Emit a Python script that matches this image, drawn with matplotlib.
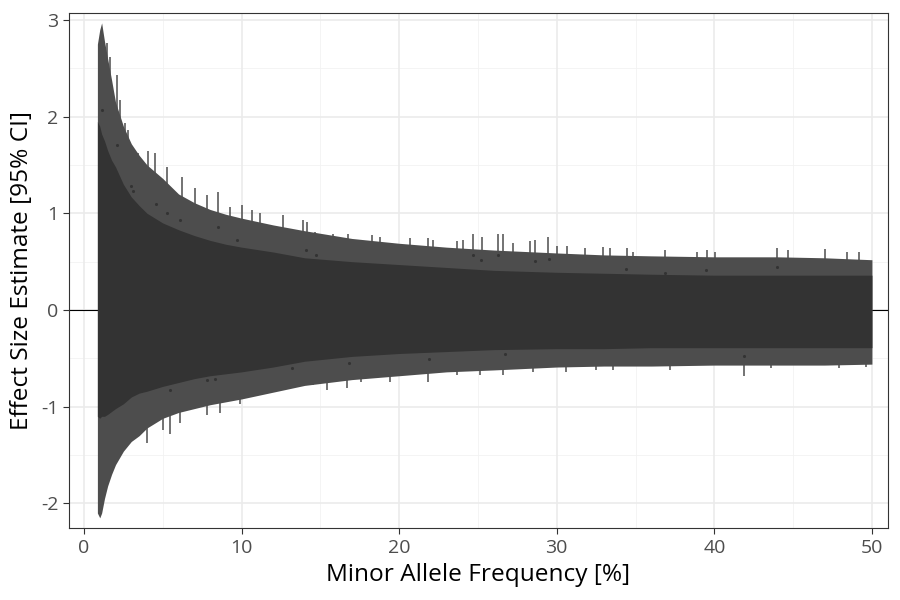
import numpy as np
import matplotlib
matplotlib.use("Agg")
import matplotlib.pyplot as plt

plt.rcParams['font.family'] = ['Open Sans', 'DejaVu Sans']

# envelope of the 95% CI bars and of the dense point cloud
maf = [0.85, 1.0, 1.12, 1.3, 1.5, 1.75, 2.0, 2.5, 3.0, 3.5, 4.0, 5.0, 6.0, 7.0,
       8.0, 9.0, 10, 12, 14, 17, 20, 23, 26, 30, 33, 36, 40, 44, 47, 50]
ci_hi = [2.75, 2.9, 2.97, 2.78, 2.6, 2.38, 2.15, 1.9, 1.72, 1.6, 1.5, 1.36, 1.2, 1.11,
         1.04, 0.99, 0.95, 0.88, 0.82, 0.74, 0.69, 0.65, 0.62, 0.59, 0.57, 0.56, 0.55, 0.55, 0.54, 0.52]
ci_lo = [-2.1, -2.15, -2.1, -1.95, -1.82, -1.70, -1.60, -1.46, -1.36, -1.30, -1.22, -1.12, -1.06, -1.02,
         -0.98, -0.95, -0.92, -0.85, -0.78, -0.72, -0.68, -0.64, -0.62, -0.59, -0.58, -0.58, -0.57, -0.57, -0.57, -0.56]
est_hi = [1.95, 1.9, 1.82, 1.75, 1.65, 1.55, 1.48, 1.3, 1.17, 1.08, 1.0, 0.9, 0.83, 0.77,
          0.72, 0.68, 0.65, 0.6, 0.54, 0.5, 0.47, 0.44, 0.41, 0.39, 0.38, 0.37, 0.36, 0.36, 0.36, 0.36]
est_lo = [-1.1, -1.12, -1.1, -1.1, -1.08, -1.05, -1.02, -0.97, -0.9, -0.86, -0.84, -0.79, -0.75, -0.71,
          -0.68, -0.66, -0.64, -0.59, -0.53, -0.48, -0.45, -0.43, -0.41, -0.40, -0.40, -0.39, -0.39, -0.39, -0.39, -0.39]

# single CI bars sticking out of the band
spike_up_maf = [1.44, 1.65, 2.07, 2.28, 2.6, 2.81, 3.45, 4.08, 4.5, 5.24, 6.2, 7.04, 7.78, 8.52,
                9.26, 10.0, 10.64, 11.17, 12.65, 13.92, 14.13, 14.66, 15.82, 16.77, 18.25, 18.78,
                20.69, 21.85, 22.17, 23.65, 24.07, 24.71, 25.24, 26.3, 26.6, 27.24, 28.3, 28.6,
                29.46, 29.99, 30.62, 31.79, 32.95, 33.38, 34.43, 34.86, 36.87, 38.88, 39.51,
                40.04, 43.95, 44.69, 47.0, 48.4, 49.2]
spike_up_top = [2.76, 2.62, 2.43, 2.17, 1.93, 1.86, 1.62, 1.64, 1.62, 1.48, 1.38, 1.26, 1.19, 1.22,
                1.07, 1.09, 1.03, 1.0, 0.98, 0.93, 0.91, 0.81, 0.79, 0.79, 0.78, 0.76,
                0.74, 0.74, 0.72, 0.71, 0.72, 0.79, 0.76, 0.79, 0.79, 0.69, 0.71, 0.72,
                0.75, 0.66, 0.66, 0.64, 0.65, 0.64, 0.64, 0.60, 0.62, 0.60, 0.62,
                0.60, 0.64, 0.62, 0.63, 0.60, 0.60]
spike_lo_maf = [3.98, 5.03, 5.46, 6.09, 7.78, 8.63, 9.9, 14.55, 15.4, 16.66, 17.6, 19.4, 21.85,
                23.65, 25.1, 26.6, 28.5, 30.6, 32.5, 33.6, 37.2, 41.9, 43.6, 47.9, 49.6]
spike_lo_bot = [-1.38, -1.24, -1.28, -1.17, -1.09, -1.07, -0.97, -0.78, -0.83, -0.81, -0.74, -0.74, -0.74,
                -0.67, -0.67, -0.67, -0.64, -0.64, -0.62, -0.62, -0.62, -0.68, -0.60, -0.60, -0.59]

# loose point estimates outside the dense cloud
dot_maf = [1.12, 2.07, 3.0, 3.1, 4.6, 5.25, 6.1, 8.5, 9.7, 14.1, 14.7, 24.7, 25.2, 26.3, 28.6,
           29.5, 34.4, 36.9, 39.5, 43.95, 7.8, 8.3, 5.46, 13.2, 16.8, 21.9, 26.7, 41.9]
dot_est = [2.07, 1.71, 1.28, 1.23, 1.1, 1.0, 0.93, 0.86, 0.72, 0.62, 0.57, 0.57, 0.52, 0.57, 0.51,
           0.53, 0.42, 0.38, 0.41, 0.44, -0.72, -0.71, -0.83, -0.6, -0.55, -0.51, -0.455, -0.48]

x_ticks = [0, 10, 20, 30, 40, 50]
y_ticks = [-2, -1, 0, 1, 2, 3]

bar_col = '#4D4D4D'
pt_col = '#333333'

fig = plt.figure(figsize=(9, 6), dpi=100)
ax = fig.add_axes([0.0767, 0.1192, 0.9096, 0.8596])

ax.set_xlim(-0.95, 51.0)
ax.set_ylim(-2.26, 3.075)

# theme_bw style grid
for v in np.arange(5, 50, 10):
    ax.axvline(v, color='#F2F2F2', lw=0.6, zorder=0)
for v in np.arange(-1.5, 3.0, 1.0):
    ax.axhline(v, color='#F2F2F2', lw=0.6, zorder=0)
for v in x_ticks:
    ax.axvline(v, color='#EBEBEB', lw=1.2, zorder=0)
for v in y_ticks:
    ax.axhline(v, color='#EBEBEB', lw=1.2, zorder=0)

ax.axhline(0, color='black', lw=0.8, zorder=1)

ax.fill_between(maf, ci_lo, ci_hi, color=bar_col, lw=0, zorder=2)
est_at_up = np.interp(spike_up_maf, maf, est_hi)
ax.vlines(spike_up_maf, est_at_up, spike_up_top, color=bar_col, lw=1.1, zorder=2)
est_at_lo = np.interp(spike_lo_maf, maf, est_lo)
ax.vlines(spike_lo_maf, spike_lo_bot, est_at_lo, color=bar_col, lw=1.1, zorder=2)
ax.fill_between(maf, est_lo, est_hi, color=pt_col, lw=0, zorder=3)
ax.scatter(dot_maf, dot_est, s=5, color=pt_col, lw=0, zorder=4)

ax.set_xticks(x_ticks)
ax.set_yticks(y_ticks)
ax.set_xticklabels([str(t) for t in x_ticks])
ax.set_yticklabels([str(t) for t in y_ticks])
for s in ax.spines.values():
    s.set_color('#333333')
    s.set_linewidth(0.8)

ax.set_xlabel('Minor Allele Frequency [%]', fontsize=15, color='black')
ax.set_ylabel('Effect Size Estimate [95% CI]', fontsize=15, color='black')

# size the titles so the x title is about 302 px wide, as in the reference
fig.canvas.draw()
w = ax.xaxis.label.get_window_extent().width
size = 15 * 302.0 / w
ax.xaxis.label.set_fontsize(size)
ax.yaxis.label.set_fontsize(size)
ax.tick_params(axis='both', length=4, width=0.8, color='#333333',
               labelcolor='#4D4D4D', labelsize=size * 0.8)

ax.xaxis.label.set_va('center')
ax.xaxis.set_label_coords(0.5, -0.09)
ax.yaxis.label.set_va('center')
ax.yaxis.set_label_coords(-0.0574, 0.5)

fig.savefig('out.png', dpi=100)
